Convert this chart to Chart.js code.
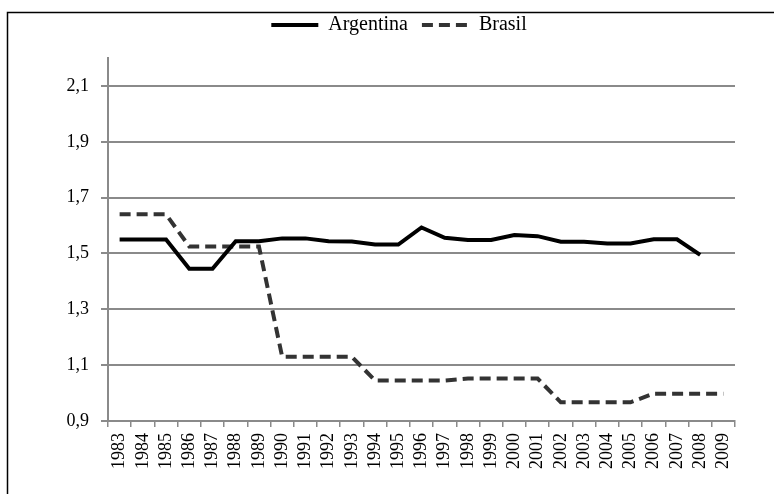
<!DOCTYPE html>
<html>
<head>
<meta charset="utf-8">
<script src="https://cdn.jsdelivr.net/npm/chart.js@4"></script>
<style>
  html, body { margin: 0; padding: 0; background: #fff; }
  #wrap { position: relative; width: 774px; height: 494px; }
</style>
</head>
<body>
<div id="wrap"><canvas id="c" width="774" height="494"></canvas></div>
<script>
const years = ['1983','1984','1985','1986','1987','1988','1989','1990','1991','1992','1993','1994','1995','1996','1997','1998','1999','2000','2001','2002','2003','2004','2005','2006','2007','2008','2009'];
const argentina = [1.55,1.55,1.55,1.445,1.445,1.544,1.544,1.554,1.554,1.544,1.543,1.532,1.532,1.593,1.556,1.548,1.548,1.566,1.562,1.542,1.542,1.536,1.536,1.551,1.551,1.495,null];
const brasil = [1.64,1.64,1.64,1.525,1.525,1.525,1.525,1.13,1.13,1.13,1.13,1.045,1.045,1.045,1.045,1.052,1.052,1.052,1.052,0.967,0.967,0.967,0.967,0.998,0.998,0.998,0.998];
const yTicks = [0.9,1.1,1.3,1.5,1.7,1.9,2.1];
const yMin = 0.9, yMax = 2.2;

const FONT = "'Liberation Serif', 'DejaVu Serif', serif";
const GRID = '#8a8a8a';

const borderPlugin = {
  id: 'frame',
  afterDraw(chart) {
    const ctx = chart.ctx;
    ctx.save();
    ctx.strokeStyle = '#000';
    ctx.lineWidth = 1.5;
    ctx.beginPath();
    ctx.moveTo(7.5, 494);
    ctx.lineTo(7.5, 12.5);
    ctx.lineTo(774, 12.5);
    ctx.stroke();
    ctx.restore();
  }
};

// empty layout box that adds space between the legend and the plot area
const spacerPlugin = {
  id: 'spacer',
  beforeInit(chart) {
    const box = {
      position: 'top', weight: 500, fullSize: true,
      options: {},
      isHorizontal() { return true; },
      update(maxWidth) { this.width = maxWidth; this.height = 13; },
      getPadding() { return { left: 0, top: 0, right: 0, bottom: 0 }; },
      draw() {}
    };
    Chart.layouts.addBox(chart, box);
  }
};

new Chart(document.getElementById('c'), {
  type: 'line',
  data: {
    labels: years,
    datasets: [
      { label: 'Argentina', data: argentina, borderColor: '#000', backgroundColor: '#000', borderWidth: 4, pointRadius: 0, pointStyle: 'line', tension: 0, spanGaps: false },
      { label: 'Brasil', data: brasil, borderColor: '#333', backgroundColor: '#333', borderWidth: 4, borderDash: [11, 6], pointRadius: 0, pointStyle: 'line', tension: 0 }
    ]
  },
  options: {
    responsive: false,
    animation: false,
    devicePixelRatio: 1,
    layout: { padding: { left: 63, right: 39, top: 1, bottom: 0 } },
    plugins: {
      tooltip: { enabled: false },
      legend: {
        position: 'top',
        labels: {
          usePointStyle: true,
          pointStyleWidth: 47,
          color: '#000',
          padding: 14,
          font: { family: FONT, size: 20 },
          generateLabels(chart) {
            const items = Chart.defaults.plugins.legend.labels.generateLabels(chart);
            items.forEach(it => {
              const ds = chart.data.datasets[it.datasetIndex];
              it.pointStyle = 'line';
              it.lineDash = ds.borderDash || [];
              it.lineWidth = ds.borderWidth;
              it.strokeStyle = ds.borderColor;
              it.fillStyle = ds.borderColor;
              it.lineCap = 'butt';
            });
            return items;
          }
        }
      }
    },
    scales: {
      x: {
        type: 'category',
        offset: true,
        grid: { offset: true, drawOnChartArea: false, drawTicks: true, tickLength: 6, color: GRID, lineWidth: 1.5 },
        border: { color: GRID, width: 2 },
        ticks: { minRotation: 90, maxRotation: 90, autoSkip: false, color: '#000', padding: 6, font: { family: FONT, size: 18 } },
        afterFit(s) { s.height = 73; }
      },
      y: {
        min: yMin, max: yMax,
        afterBuildTicks(s) { s.ticks = yTicks.map(v => ({ value: v })); },
        grid: { color: GRID, lineWidth: 2, drawTicks: true, tickLength: 7 },
        border: { color: GRID, width: 2 },
        ticks: { color: '#000', padding: 12, font: { family: FONT, size: 18 }, callback: v => Number(v).toFixed(1).replace('.', ',') },
        afterFit(s) { s.width = 45; }
      }
    }
  },
  plugins: [spacerPlugin, borderPlugin]
});
</script>
</body>
</html>
